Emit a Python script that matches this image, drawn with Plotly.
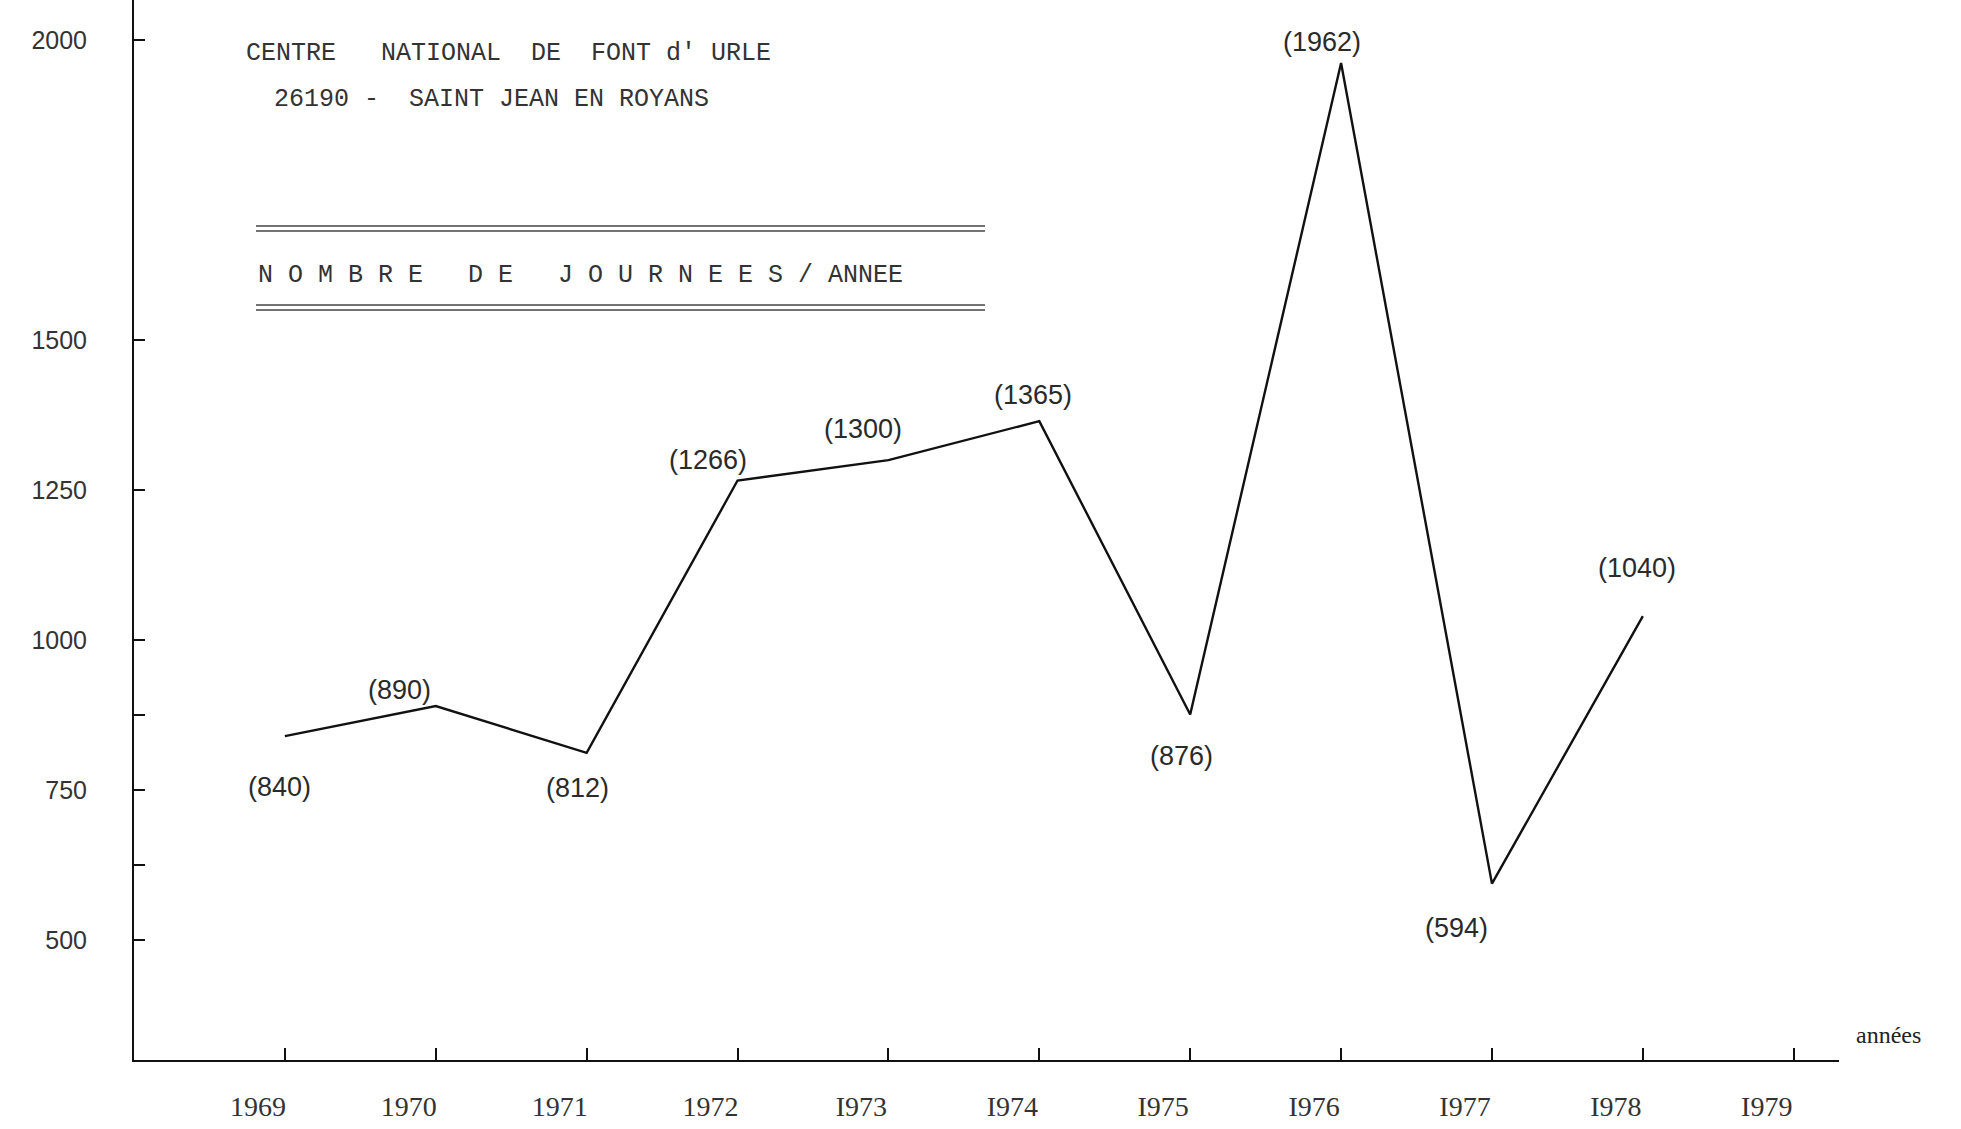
import plotly.graph_objects as go

# ---- data ----
years = [1969, 1970, 1971, 1972, 1973, 1974, 1975, 1976, 1977, 1978]
journees = [840, 890, 812, 1266, 1300, 1365, 876, 1962, 594, 1040]

x_tick_years = [1969, 1970, 1971, 1972, 1973, 1974, 1975, 1976, 1977, 1978, 1979]
x_tick_labels = ["1969", "1970", "1971", "1972", "I973", "I974", "I975", "I976", "I977", "I978", "I979"]

y_tick_vals = [500, 625, 750, 875, 1000, 1250, 1500, 2000]
y_tick_labels = ["500", "", "750", "", "1000", "1250", "1500", "2000"]

title_line1 = "CENTRE   NATIONAL  DE  FONT d' URLE"
title_line2 = "26190 -  SAINT JEAN EN ROYANS"
title_line3 = "N O M B R E   D E   J O U R N E E S / ANNEE"
x_axis_label = "années"

# label offsets (pixels) relative to each point: (dx, dy) with dy positive = up
label_offsets = [(-5, -51), (-36, 16), (-9, -35), (-30, 21), (-25, 31),
                 (-6, 26), (-9, -42), (-19, 21), (-35, -44), (-6, 48)]

W, H = 1961, 1129
ML, MR, MT, MB = 134, 122, 0, 69

nb = lambda s: s.replace(" ", "\u00a0")

fig = go.Figure()
fig.add_trace(go.Scatter(
    x=years, y=journees, mode="lines",
    line=dict(color="#111111", width=2.4),
    hoverinfo="x+y", showlegend=False,
))

annotations = []
for xv, yv, (dx, dy) in zip(years, journees, label_offsets):
    annotations.append(dict(
        x=xv, y=yv, xref="x", yref="y", text=f"({yv})", showarrow=False,
        xshift=dx, yshift=dy,
        font=dict(family="Liberation Sans", size=27, color="#2a2a2a"),
    ))

mono = dict(family="Liberation Mono", size=25, color="#333333")
annotations += [
    dict(x=(244 - ML) / (W - ML - MR), y=1 - (54 - MT) / (H - MT - MB), xref="paper", yref="paper",
         text=nb(title_line1), showarrow=False, xanchor="left", yanchor="middle", font=mono),
    dict(x=(272 - ML) / (W - ML - MR), y=1 - (100 - MT) / (H - MT - MB), xref="paper", yref="paper",
         text=nb(title_line2), showarrow=False, xanchor="left", yanchor="middle", font=mono),
    dict(x=(256 - ML) / (W - ML - MR), y=1 - (275 - MT) / (H - MT - MB), xref="paper", yref="paper",
         text=nb(title_line3), showarrow=False, xanchor="left", yanchor="middle", font=mono),
    dict(x=(1888 - ML) / (W - ML - MR), y=1 - (1035 - MT) / (H - MT - MB), xref="paper", yref="paper",
         text=x_axis_label, showarrow=False, xanchor="center", yanchor="middle",
         font=dict(family="Liberation Serif", size=24, color="#222222")),
]

# double rule lines around the subtitle
shapes = []
for ypix in (226, 231, 305, 310):
    yp = 1 - (ypix - MT) / (H - MT - MB)
    shapes.append(dict(type="line", xref="paper", yref="paper",
                       x0=(256 - ML) / (W - ML - MR), x1=(985 - ML) / (W - ML - MR),
                       y0=yp, y1=yp, line=dict(color="#444444", width=1.5)))

fig.update_layout(
    width=W, height=H,
    margin=dict(l=ML, r=MR, t=MT, b=MB, pad=0),
    paper_bgcolor="white", plot_bgcolor="white",
    annotations=annotations, shapes=shapes,
    showlegend=False,
)
fig.update_xaxes(
    range=[1968.0, 1979.3], showgrid=False, zeroline=False,
    showline=True, linecolor="#111111", linewidth=2,
    tickmode="array", tickvals=x_tick_years, ticktext=x_tick_labels,
    ticks="inside", ticklen=12, tickwidth=2, tickcolor="#111111",
    tickfont=dict(family="Liberation Serif", size=28, color="#333333"),
    ticklabelstandoff=20, ticklabelshift=-27,
)
fig.update_yaxes(
    range=[300, 2067], showgrid=False, zeroline=False,
    showline=True, linecolor="#111111", linewidth=2,
    tickmode="array", tickvals=y_tick_vals, ticktext=y_tick_labels,
    ticks="inside", ticklen=11, tickwidth=2, tickcolor="#111111",
    tickfont=dict(family="Liberation Sans", size=25, color="#333333"),
    ticklabelstandoff=40,
)

fig.write_html("out.html", config={"displayModeBar": False},
               post_script="document.body.style.margin='0';document.body.style.overflow='hidden';")
